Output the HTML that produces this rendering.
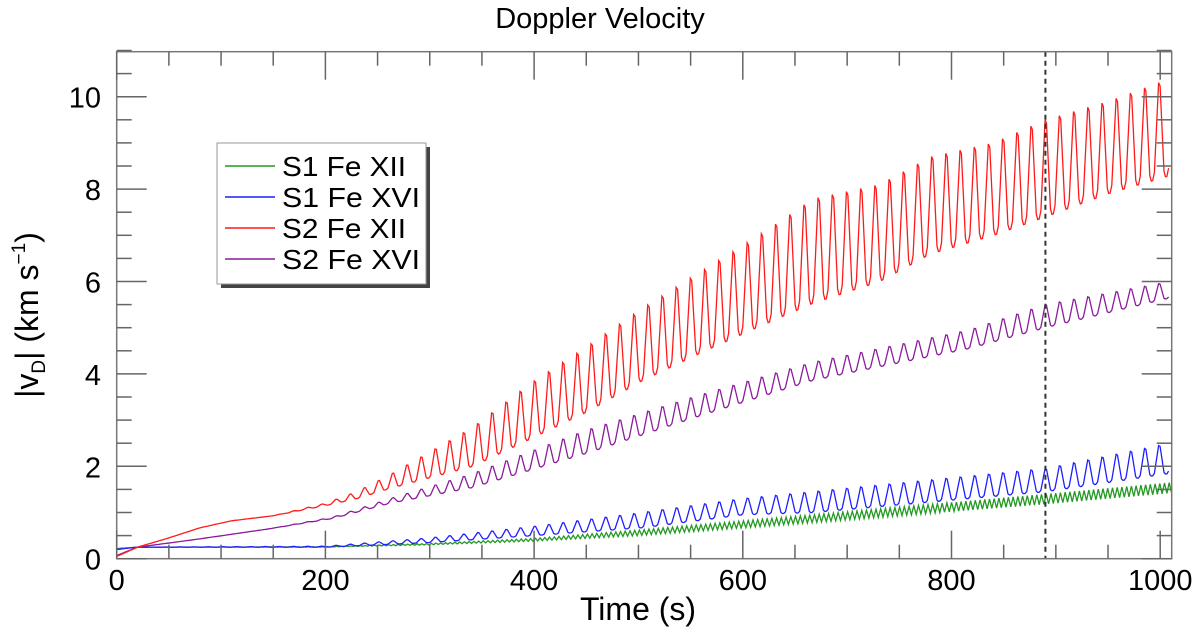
<!DOCTYPE html>
<html><head><meta charset="utf-8"><style>
body{margin:0;background:#fff;}
svg text{font-family:"Liberation Sans",sans-serif;fill:#000;}
</style></head><body>
<svg id="chart" width="1200" height="634" viewBox="0 0 1200 634" xmlns="http://www.w3.org/2000/svg">
<text x="600" y="28" font-size="29" text-anchor="middle">Doppler Velocity</text>
<g id="plot"></g>
<text x="638" y="620" font-size="32" text-anchor="middle">Time (s)</text>
<text transform="translate(38,315) rotate(-90)" font-size="32" text-anchor="middle">|v<tspan font-size="19" dy="7">D</tspan><tspan dy="-7">|  (km s</tspan><tspan font-size="19" dy="-13">−1</tspan><tspan dy="13">)</tspan></text>
</svg>
<script>
const PERIOD = 13.6;
const dashTime = 890;
const xTicks = [0,200,400,600,800,1000];
const yTicks = [0,2,4,6,8,10];
// envelope knots (time, peak, trough)
const redT      = [0,20,50,80,110,150,200,230,262,341,397,450,504,559,613,667,731,780,840,890,950,1010];
const redPeak   = [0.05,0.25,0.45,0.67,0.82,0.93,1.2,1.45,1.82,2.84,3.8,4.58,5.42,6.2,6.96,7.79,8.1,8.7,9.0,9.5,9.9,10.4];
const redTrough = [0.05,0.25,0.45,0.67,0.82,0.93,1.15,1.3,1.52,2.0,2.6,3.17,3.86,4.45,5.0,5.53,6.0,6.6,7.0,7.4,7.9,8.3];
const purT      = [0,20,80,147,207,262,341,450,560,667,817,890,1010];
const purPeak   = [0.07,0.25,0.43,0.65,0.9,1.3,1.84,2.78,3.55,4.25,4.95,5.5,6.0];
const purTrough = [0.07,0.25,0.43,0.65,0.87,1.2,1.54,2.28,3.1,3.86,4.55,5.0,5.65];
const bluT      = [0,20,200,300,400,504,600,667,890,1010];
const bluPeak   = [0.2,0.25,0.27,0.45,0.7,1.0,1.3,1.45,1.95,2.5];
const bluTrough = [0.2,0.25,0.25,0.35,0.5,0.67,0.95,1.0,1.45,1.85];
const grnT      = [0,20,200,300,400,500,667,890,1010];
const grnPeak   = [0.22,0.25,0.26,0.33,0.44,0.62,0.95,1.4,1.65];
const grnTrough = [0.22,0.25,0.25,0.3,0.38,0.5,0.78,1.18,1.42];

const X0=116.7, XS=1.0435, Y0=558.7, YS=46.2, XR=1171.7, YT=51.7;
const sx=t=>X0+t*XS, sy=v=>Y0-v*YS;
const NS='http://www.w3.org/2000/svg';
const plot=document.getElementById('plot');
function mk(tag,attrs){const e=document.createElementNS(NS,tag);for(const k in attrs)e.setAttribute(k,attrs[k]);plot.appendChild(e);return e;}
function interp(T,V,t){if(t<=T[0])return V[0];for(let i=1;i<T.length;i++){if(t<=T[i]){const f=(t-T[i-1])/(T[i]-T[i-1]);return V[i-1]+f*(V[i]-V[i-1]);}}return V[V.length-1];}
const shapeA={ph:[0,0.12,0.42,0.52,0.8,0.9],lv:[0,0.08,1,0.96,0.06,0]};
const shapeTri={ph:[0,0.5],lv:[0,1]};
function series(T,P,Tr,period,shape){
  let pts=[];
  for(let c=0;c*period<1012;c++){
    for(let k=0;k<shape.ph.length;k++){
      const t=c*period+shape.ph[k]*period; if(t>1012)break;
      const p=interp(T,P,t), q=interp(T,Tr,t);
      pts.push([sx(t),sy(q+shape.lv[k]*(p-q))]);
    }
  }
  return pts.map((p,i)=>(i?'L':'M')+p[0].toFixed(1)+' '+p[1].toFixed(1)).join('');
}
const defs=[['series-s1-fe-xii',grnT,grnPeak,grnTrough,PERIOD/3,'#229922',shapeTri],
 ['series-s1-fe-xvi',bluT,bluPeak,bluTrough,PERIOD,'#1f1fff',shapeA],
 ['series-s2-fe-xvi',purT,purPeak,purTrough,PERIOD,'#8b1c9c',shapeA],
 ['series-s2-fe-xii',redT,redPeak,redTrough,PERIOD,'#ff1a1a',shapeA]];
const cp=mk('clipPath',{id:'cp'});
const cr=document.createElementNS(NS,'rect');cr.setAttribute('x',X0);cr.setAttribute('y',YT);cr.setAttribute('width',XR-X0);cr.setAttribute('height',Y0-YT);cp.appendChild(cr);
for(const d of defs){
  const e=mk('path',{d:series(d[1],d[2],d[3],d[4],d[6]),fill:'none',stroke:d[5],'stroke-width':1.3,'clip-path':'url(#cp)'});
  
  
}
const dl=mk('line',{x1:sx(dashTime),x2:sx(dashTime),y1:YT,y2:Y0,stroke:'#333','stroke-width':2,'stroke-dasharray':'5 4'});


const fr=mk('rect',{x:X0,y:YT,width:XR-X0,height:Y0-YT,fill:'none',stroke:'#777','stroke-width':1.5});


for(let t=0;t<=1010;t+=50){
  const L=(t%200===0)?28:14;
  mk('line',{x1:sx(t),x2:sx(t),y1:Y0,y2:Y0-L,stroke:'#666','stroke-width':1.5});
  mk('line',{x1:sx(t),x2:sx(t),y1:YT,y2:YT+L,stroke:'#666','stroke-width':1.5});
}
for(const t of xTicks){
  const tx=mk('text',{x:sx(t),y:590,'font-size':29,'text-anchor':'middle'});tx.textContent=t;
  
  
}
for(let v=0;v<=11;v+=0.5){
  const L=(v%2===0)?30:15;
  mk('line',{x1:X0,x2:X0+L,y1:sy(v),y2:sy(v),stroke:'#666','stroke-width':1.5});
  mk('line',{x1:XR,x2:XR-L,y1:sy(v),y2:sy(v),stroke:'#666','stroke-width':1.5});
}
for(const v of yTicks){
  const tx=mk('text',{x:101,y:sy(v)+11,'font-size':29,'text-anchor':'end'});tx.textContent=v;
  
  
}
const lg=document.createElementNS(NS,'g');plot.appendChild(lg);


function lmk(tag,a){const e=document.createElementNS(NS,tag);for(const k in a)e.setAttribute(k,a[k]);lg.appendChild(e);return e;}
lmk('rect',{x:221,y:147,width:209,height:141,fill:'#444'});
lmk('rect',{x:217,y:143,width:209,height:141,fill:'#fff',stroke:'#999','stroke-width':1});
const labels=['S1 Fe XII','S1 Fe XVI','S2 Fe XII','S2 Fe XVI'];
const cols=['#229922','#1f1fff','#ff1a1a','#8b1c9c'];
for(let i=0;i<4;i++){
  const y=166+i*31;
  lmk('line',{x1:225,x2:275,y1:y,y2:y,stroke:cols[i],'stroke-width':1.5});
  const tx=lmk('text',{x:282,y:y+10,'font-size':28,'textLength':i%2?138:124,'lengthAdjust':'spacingAndGlyphs'});tx.textContent=labels[i];
  
  
}
</script>
</body></html>
